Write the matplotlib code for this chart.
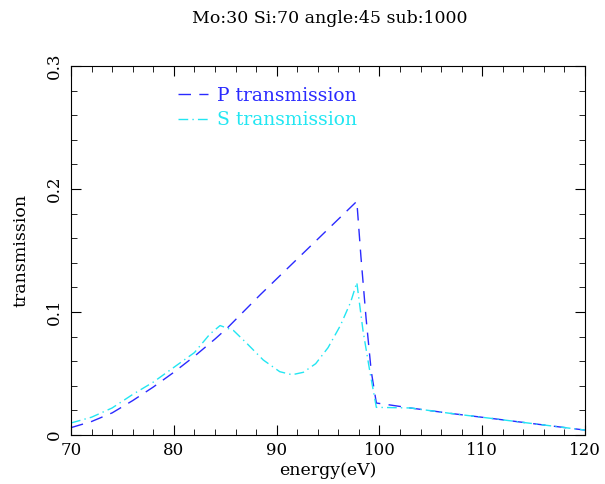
import matplotlib
matplotlib.use("Agg")
import matplotlib.pyplot as plt
from matplotlib.ticker import MultipleLocator

title = "Mo:30 Si:70 angle:45 sub:1000"
p_energy = [70, 72, 74, 76, 78, 80, 82, 84, 85.2, 88.4, 97.8, 98.2, 98.7, 99.2, 99.7,
            100.4, 103, 106.9, 110.8, 114.7, 120]
p_trans = [0.006, 0.011, 0.018, 0.028, 0.039, 0.051, 0.064, 0.078, 0.087, 0.114, 0.19,
           0.145, 0.095, 0.052, 0.026, 0.0252, 0.022, 0.0176, 0.0136, 0.0095, 0.004]
s_energy = [70, 72, 74, 76, 78, 80, 82, 83.5, 84.5, 85.8, 87.1, 88.7, 90.3, 91.5, 92.6,
            93.8, 95.0, 96.2, 97.2, 97.8, 98.4, 99.1, 99.7, 103, 106.9, 110.8, 114.7, 120]
s_trans = [0.0098, 0.0145, 0.022, 0.033, 0.043, 0.055, 0.067, 0.082, 0.089, 0.085, 0.0745,
           0.061, 0.0515, 0.049, 0.051, 0.058, 0.071, 0.089, 0.108, 0.124, 0.085, 0.050,
           0.0225, 0.022, 0.0176, 0.0136, 0.0095, 0.004]

plt.rcParams['font.family'] = ['DejaVu Serif']
fig = plt.figure(figsize=(6.05, 4.84), dpi=100)
ax = fig.add_axes([0.1174, 0.1012, 0.8496, 0.7624])

ax.plot(p_energy, p_trans, color='#2a2aff', lw=1.0, dashes=(9, 6), label='P transmission')
ax.plot(s_energy, s_trans, color='#22e6f2', lw=1.0, dashes=(7, 3, 1, 3), label='S transmission')

ax.set_xlim(70, 120)
ax.set_ylim(0, 0.3)
ax.xaxis.set_major_locator(MultipleLocator(10))
ax.xaxis.set_minor_locator(MultipleLocator(2))
ax.yaxis.set_major_locator(MultipleLocator(0.1))
ax.yaxis.set_minor_locator(MultipleLocator(0.02))
ax.tick_params(which='both', direction='in', top=True, right=True, labelsize=12)
ax.tick_params(which='major', length=7, width=0.8)
ax.tick_params(which='minor', length=4, width=0.6)
ax.set_xticks([70, 80, 90, 100, 110, 120])
ax.set_xticklabels(['70', '80', '90', '100', '110', '120'])
ax.set_yticks([0, 0.1, 0.2, 0.3])
ax.set_yticklabels(['0', '0.1', '0.2', '0.3'], rotation=90, va='center')
ax.tick_params(axis='x', pad=5)
ax.tick_params(axis='y', pad=6)
for s in ax.spines.values():
    s.set_linewidth(0.8)

ax.set_xlabel('energy(eV)', fontsize=12.5, labelpad=2)
ax.set_ylabel('transmission', fontsize=12.5, labelpad=12)
fig.text(0.545, 0.962, title, ha='center', va='center', fontsize=12.5)

leg = ax.legend(loc='upper left', bbox_to_anchor=(0.175, 0.99), frameon=False,
                handlelength=1.6, handletextpad=0.5, labelspacing=0.35, fontsize=13.5,
                labelcolor='linecolor')
fig.savefig('out.png', dpi=100)
